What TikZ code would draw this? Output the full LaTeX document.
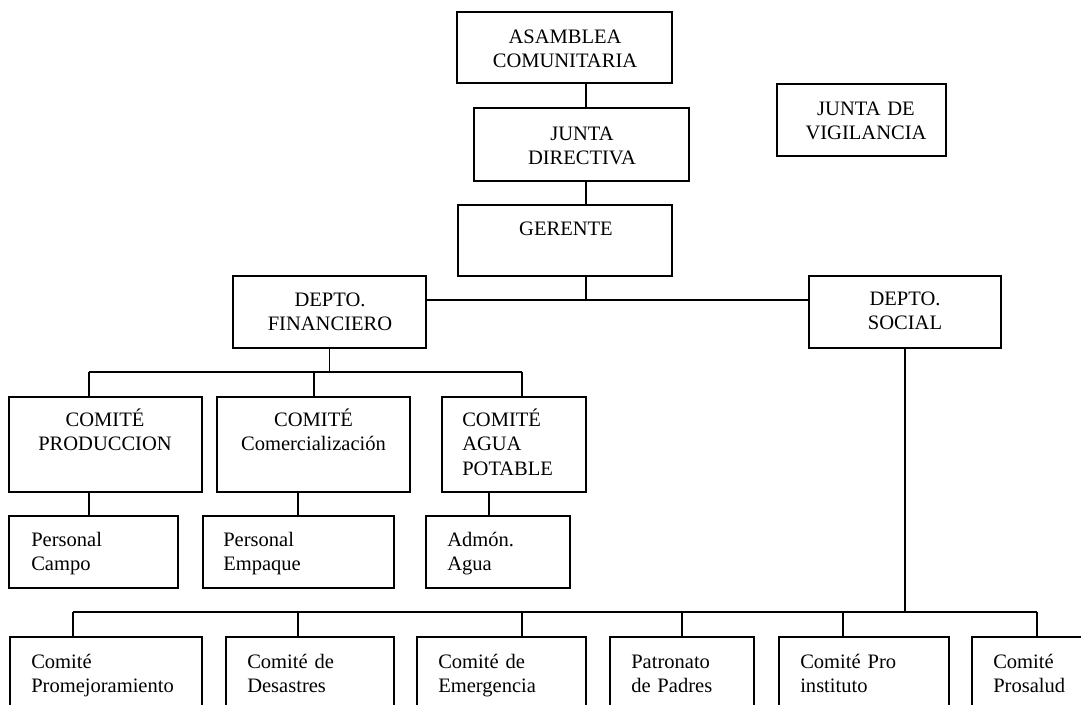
\documentclass[tikz,border=0pt]{standalone}
\usepackage{fontspec}
\setmainfont{Liberation Serif}
\usetikzlibrary{fit}
\tikzset{
  caja/.style={draw, line width=1.2pt, inner sep=0pt, rectangle},
  linea/.style={line width=1.2pt},
  rotulo/.style={inner sep=0pt, font=\fontsize{15.4}{18.3}\selectfont, text width=160pt, align=center, anchor=base},
  rotuloizq/.style={rotulo, align=left, anchor=base west},
}
\begin{document}
\begin{tikzpicture}[x=0.75pt, y=-0.75pt]
\useasboundingbox (0,0) rectangle (1081,704);
\clip (0,0) rectangle (1081,704);
		%Cajas de arriba
	\node[caja, fit={(457,12) (672,83)}] (asamblea) {};
	\node[caja, fit={(474,108) (689,181)}] (directiva) {};
	\node[caja, fit={(458,205) (672,276)}] (gerente) {};
	\node[caja, fit={(777,84) (946,156)}] (vigilancia) {};
	\node[caja, fit={(233,276) (426,348)}] (financiero) {};
	\node[caja, fit={(809,276) (1001,348)}] (social) {};
		%Comites financieros
	\node[caja, fit={(9,397) (202,492)}] (produccion) {};
	\node[caja, fit={(217,397) (410,492)}] (comercial) {};
	\node[caja, fit={(442,397) (586,492)}] (agua) {};
	\node[caja, fit={(9,516) (178,588)}] (campo) {};
	\node[caja, fit={(203,516) (394,588)}] (empaque) {};
	\node[caja, fit={(426,516) (570,588)}] (admon) {};
		%Comites sociales
	\node[caja, fit={(10,637) (202,720)}] (promej) {};
	\node[caja, fit={(226,637) (394,720)}] (desastres) {};
	\node[caja, fit={(417,637) (586,720)}] (emergencia) {};
	\node[caja, fit={(610,637) (754,720)}] (patronato) {};
	\node[caja, fit={(779,637) (949,720)}] (instituto) {};
	\node[caja, fit={(972,637) (1090,720)}] (prosalud) {};
		%Textos
	\node[rotulo] (tAsamblea) at (565,43.5) {ASAMBLEA\\COMUNITARIA};
	\node[rotulo] (tDirectiva) at (582,140.5) {JUNTA\\DIRECTIVA};
	\node[rotulo] (tGerente) at (566,235.5) {GERENTE};
	\node[rotulo] (tVigilancia) at (866,115.5) {JUNTA DE\\VIGILANCIA};
	\node[rotulo] (tFinanciero) at (330,306.5) {DEPTO.\\FINANCIERO};
	\node[rotulo] (tSocial) at (905,305.5) {DEPTO.\\SOCIAL};
	\node[rotulo] (tProduccion) at (105,426.5) {COMITÉ\\PRODUCCION};
	\node[rotulo] (tComercial) at (313.5,426.5) {COMITÉ\\Comercialización};
	\node[rotuloizq] (tAgua) at (462,426.5) {COMITÉ\\AGUA\\POTABLE};
	\node[rotuloizq] (tCampo) at (31,546.5) {Personal\\Campo};
	\node[rotuloizq] (tEmpaque) at (223,546.5) {Personal\\Empaque};
	\node[rotuloizq] (tAdmon) at (447,546.5) {Admón.\\Agua};
	\node[rotuloizq] (tPromej) at (31,668) {Comité\\Promejoramiento};
	\node[rotuloizq] (tDesastres) at (247,668) {Comité de\\Desastres};
	\node[rotuloizq] (tEmergencia) at (438,668) {Comité de\\Emergencia};
	\node[rotuloizq] (tPatronato) at (631,668) {Patronato\\de Padres};
	\node[rotuloizq] (tInstituto) at (800,668) {Comité Pro\\instituto};
	\node[rotuloizq] (tProsalud) at (993,668) {Comité\\Prosalud};
		%Lineas
	\coordinate (eje) at (586,300);
	\draw[linea] (asamblea.south -| eje) -- (directiva.north -| eje);
	\draw[linea] (directiva.south -| eje) -- (gerente.north -| eje);
	\draw[linea] (gerente.south -| eje) -- (eje);
	\draw[linea] (financiero.east |- eje) -- (social.west |- eje);
	\coordinate (busF) at (financiero.south |- 0,372);
	\draw[linea] (financiero.south) -- (busF);
	\draw[linea] (busF -| 89,0) -- (busF -| 522,0);
	\foreach \n/\x in {produccion/89, comercial/314, agua/522}
		\draw[linea] (busF -| \x,0) -- (\n.north -| \x,0);
	\foreach \a/\b/\x in {produccion/campo/89, comercial/empaque/298, agua/admon/489}
		\draw[linea] (\a.south -| \x,0) -- (\b.north -| \x,0);
	\coordinate (busS) at (social.south |- 0,612);
	\draw[linea] (social.south) -- (busS);
	\draw[linea] (busS -| 73,0) -- (busS -| 1037,0);
	\foreach \n/\x in {promej/73, desastres/298, emergencia/522, patronato/682, instituto/843, prosalud/1037}
		\draw[linea] (busS -| \x,0) -- (\n.north -| \x,0);
\end{tikzpicture}
\end{document}
